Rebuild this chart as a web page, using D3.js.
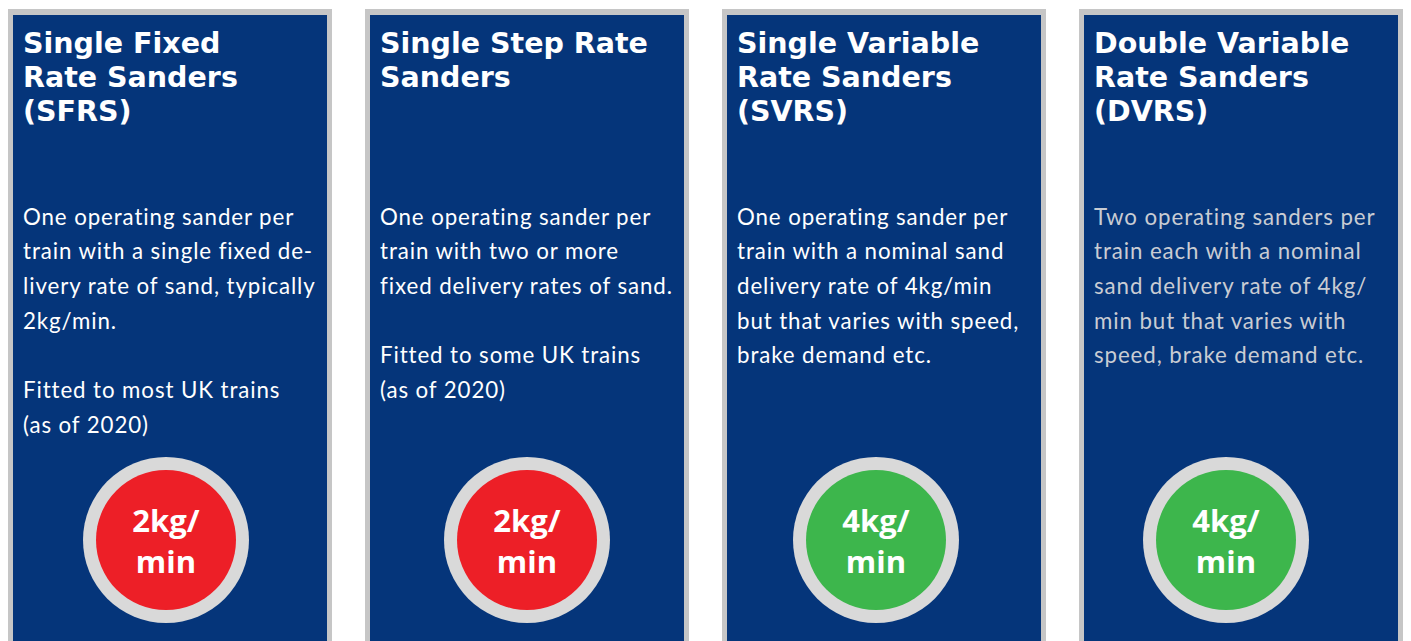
<!DOCTYPE html>
<html>
<head>
<meta charset="utf-8">
<script src="https://cdn.jsdelivr.net/npm/d3@7"></script>
<style>
  html, body { margin: 0; padding: 0; background: #ffffff; }
  svg { display: block; }
</style>
</head>
<body>
<div id="chart"></div>
<script>
// 四种撒砂器类型
const sanderCodes = ["SFRS", "SSRS", "SVRS", "DVRS"];
const titleLines = [
    ["Single Fixed", "Rate Sanders", "(SFRS)"],
    ["Single Step Rate", "Sanders"],
    ["Single Variable", "Rate Sanders", "(SVRS)"],
    ["Double Variable", "Rate Sanders", "(DVRS)"]
];
const bodyLines = [
    ["One operating sander per", "train with a single fixed de-", "livery rate of sand, typically", "2kg/min.", "", "Fitted to most UK trains", "(as of 2020)"],
    ["One operating sander per", "train with two or more", "fixed delivery rates of sand.", "", "Fitted to some UK trains", "(as of 2020)"],
    ["One operating sander per", "train with a nominal sand", "delivery rate of 4kg/min", "but that varies with speed,", "brake demand etc."],
    ["Two operating sanders per", "train each with a nominal", "sand delivery rate of 4kg/", "min but that varies with", "speed, brake demand etc."]
];
const rateKg = [2, 2, 4, 4];
const rateUnit = ["kg/", "min"];

// 布局参数
const width = 1411;
const height = 641;
const panelTop = 9;
const border = 5;
const circleShift = [-4, 0, -8, -15]; // 圆相对面板中心的偏移
const circleY = 540;

const x = d3.scaleBand()
    .domain(sanderCodes)
    .range([8, 1403])
    .paddingInner(33 / 357)
    .paddingOuter(0);

const rateColor = d3.scaleOrdinal()
    .domain([2, 4])
    .range(["#ed1f27", "#3db64c"]);

const svg = d3.select("#chart").append("svg")
    .attr("width", width)
    .attr("height", height);

const panels = svg.selectAll("g.panel")
    .data(sanderCodes.map((code, i) => ({
        code,
        title: titleLines[i],
        body: bodyLines[i],
        rate: rateKg[i],
        shift: circleShift[i],
        dim: i === 3
    })))
    .enter()
    .append("g")
    .attr("class", "panel")
    .attr("transform", d => `translate(${x(d.code)},0)`);

// 灰色外框
panels.append("rect")
    .attr("x", 0)
    .attr("y", panelTop)
    .attr("width", x.bandwidth())
    .attr("height", height)
    .attr("fill", "#c6c6c6");

// 深蓝色面板
panels.append("rect")
    .attr("x", border)
    .attr("y", panelTop + 6)
    .attr("width", x.bandwidth() - border * 2)
    .attr("height", height)
    .attr("fill", "#05357a");

// 标题
panels.append("text")
    .attr("fill", "#ffffff")
    .style("font-family", "'DejaVu Sans', sans-serif")
    .style("font-weight", 700)
    .style("font-size", "28.5px")
    .selectAll("tspan")
    .data(d => d.title)
    .enter()
    .append("tspan")
    .attr("x", 15)
    .attr("y", (d, i) => 52.5 + i * 34.3)
    .text(d => d);

// 描述文字
panels.append("text")
    .attr("fill", d => d.dim ? "#c9ccd3" : "#ffffff")
    .style("font-family", "Lato, 'Open Sans', sans-serif")
    .style("font-weight", 400)
    .style("font-size", "22.3px")
    .style("letter-spacing", "0.9px")
    .selectAll("tspan")
    .data(d => d.body)
    .enter()
    .append("tspan")
    .attr("x", 15)
    .attr("y", (d, i) => 224.5 + i * 34.7)
    .text(d => d);

// 速率圆
const badge = panels.append("g")
    .attr("transform", d => `translate(${x.bandwidth() / 2 + d.shift},${circleY})`);

badge.append("circle")
    .attr("r", 83)
    .attr("fill", "#d9d9d9");

badge.append("circle")
    .attr("r", 70)
    .attr("fill", d => rateColor(d.rate));

badge.append("text")
    .attr("text-anchor", "middle")
    .attr("fill", "#ffffff")
    .style("font-family", "'Open Sans', sans-serif")
    .style("font-weight", 700)
    .style("font-size", "31px")
    .selectAll("tspan")
    .data(d => [d.rate + rateUnit[0], rateUnit[1]])
    .enter()
    .append("tspan")
    .attr("x", 0)
    .attr("y", (d, i) => -8.5 + i * 41)
    .text(d => d);
</script>
</body>
</html>
